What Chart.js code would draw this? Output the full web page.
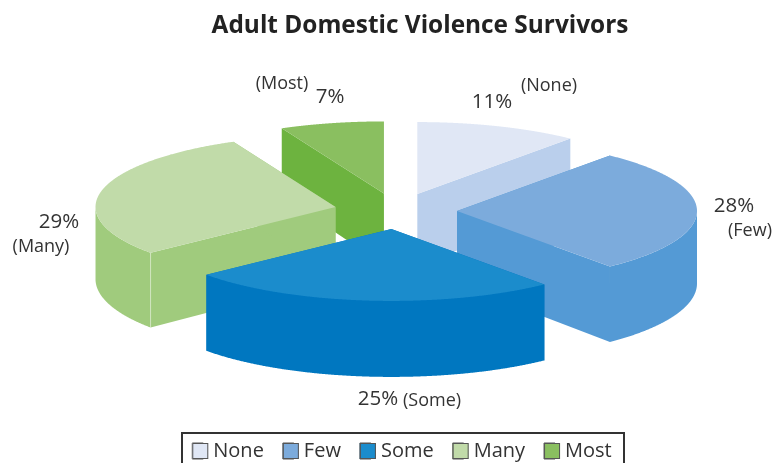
<!DOCTYPE html>
<html>
<head>
<meta charset="utf-8">
<script src="https://cdn.jsdelivr.net/npm/chart.js@4/dist/chart.umd.min.js"></script>
<style>
html,body{margin:0;padding:0;background:#fff;overflow:hidden}
#wrap{width:773px;height:463px;position:relative}
</style>
</head>
<body>
<div id="wrap"><canvas id="c" width="773" height="463"></canvas></div>
<script>
const titleText = 'Adult Domestic Violence Survivors';
const categories = ['None', 'Few', 'Some', 'Many', 'Most'];
const values = [11, 28, 25, 29, 7];
const topColors = ['#E0E7F5', '#7CABDC', '#1B8CCC', '#C1DBA9', '#8ABF60'];
const sideColors = ['#BACFEC', '#549AD5', '#0077C0', '#A0CB7D', '#6DB33F'];
const explode = [60, 60, 60, 63, 60];
const drawOrder = [0, 4, 3, 1, 2];
const FONT = '"Open Sans", "Noto Sans", sans-serif';

const labelPlacement = [
  {pct:[492,102], name:[549,86]},
  {pct:[734,206], name:[750,231]},
  {pct:[378,399], name:[432,401]},
  {pct:[59,222],  name:[41,247]},
  {pct:[330,97],  name:[282,84]}
];

const tiltedPie = {
  id: 'tiltedPie',
  afterLayout(chart) {
    const t = chart.titleBlock;
    t.left += 18; t.right += 18;
    const lg = chart.legend;
    lg.top += 8; lg.bottom += 8;
  },
  beforeDatasetDraw(chart, args, o) {
    const ctx = chart.ctx;
    const arcs = args.meta.data;
    const H = y => Math.min(o.wallMax, o.wall + (y - o.y) * o.persp);
    drawOrder.forEach(i => {
      const a = arcs[i];
      const mid = (a.startAngle + a.endAngle) / 2;
      const off = a.options.offset;
      const R = a.outerRadius;
      const P = (r, th) => [
        o.x + off * Math.cos(mid) + r * Math.cos(th),
        o.y + o.squash * (off * Math.sin(mid) + r * Math.sin(th))
      ];
      const rim = [];
      const front = [];
      const n = 360;
      for (let k = 0; k <= n; k++) {
        const th = a.startAngle + (a.endAngle - a.startAngle) * k / n;
        const p = P(R, th);
        rim.push(p);
        if (Math.sin(th) >= -0.004) front.push(p);
      }
      const tip = P(0, 0);
      const low = p => [p[0], p[1] + H(p[1])];
      const fillPoly = (pts, color) => {
        ctx.beginPath();
        pts.forEach((p, k) => k ? ctx.lineTo(p[0], p[1]) : ctx.moveTo(p[0], p[1]));
        ctx.closePath();
        ctx.fillStyle = color;
        ctx.fill();
      };
      const side = sideColors[i];
      fillPoly([tip, rim[0], low(rim[0]), low(tip)], side);
      fillPoly([tip, rim[n], low(rim[n]), low(tip)], side);
      if (front.length > 1) fillPoly([...front, ...front.map(low).reverse()], side);
      if (i === 3) {
        const s = rim[0], e = low(s);
        ctx.beginPath(); ctx.moveTo(s[0], s[1]); ctx.lineTo(e[0], e[1]);
        ctx.strokeStyle = 'rgba(255,255,255,.45)'; ctx.lineWidth = 0.8; ctx.stroke();
      }
      fillPoly([tip, ...rim], a.options.backgroundColor);
    });
    return false;
  },
  afterDraw(chart, args, o) {
    const ctx = chart.ctx;
    const lg = chart.legend;
    lg.legendHitBoxes.forEach((hb, i) => {
      const y = hb.top + (hb.height - 16) / 2;
      ctx.fillStyle = topColors[i];
      ctx.strokeStyle = '#555';
      ctx.lineWidth = 1;
      ctx.fillRect(hb.left, y, 16, 16);
      ctx.strokeRect(hb.left + .5, y + .5, 15, 15);
    });
    ctx.strokeStyle = '#333';
    ctx.lineWidth = 2;
    ctx.strokeRect(182, 433, 442, 60);
    ctx.fillStyle = '#333';
    ctx.textAlign = 'center';
    ctx.textBaseline = 'middle';
    labelPlacement.forEach((p, i) => {
      ctx.font = '20.5px ' + FONT;
      ctx.fillText(values[i] + '%', p.pct[0], p.pct[1]);
      ctx.font = '18px ' + FONT;
      ctx.fillText('(' + categories[i] + ')', p.name[0], p.name[1]);
    });
  }
};

new Chart(document.getElementById('c'), {
  type: 'pie',
  data: {
    labels: categories,
    datasets: [{
      data: values,
      backgroundColor: topColors,
      borderColor: '#555',
      borderWidth: 1,
      offset: explode,
      radius: 240
    }]
  },
  plugins: [tiltedPie],
  options: {
    responsive: false,
    animation: false,
    layout: {padding: {left: 31, top: 0, bottom: 0}},
    plugins: {
      title: {
        display: true,
        text: titleText,
        color: '#222',
        font: {family: FONT, size: 24.4, weight: 'bold'},
        padding: {top: 11, bottom: 6}
      },
      legend: {
        position: 'bottom',
        labels: {
          boxWidth: 11,
          boxHeight: 16,
          padding: 19,
          color: '#333',
          font: {family: FONT, size: 20}
        }
      },
      tooltip: {enabled: false},
      tiltedPie: {x: 397, y: 211, squash: 0.3, wall: 72.5, wallMax: 76, persp: 0.055}
    }
  }
});
</script>
</body>
</html>
